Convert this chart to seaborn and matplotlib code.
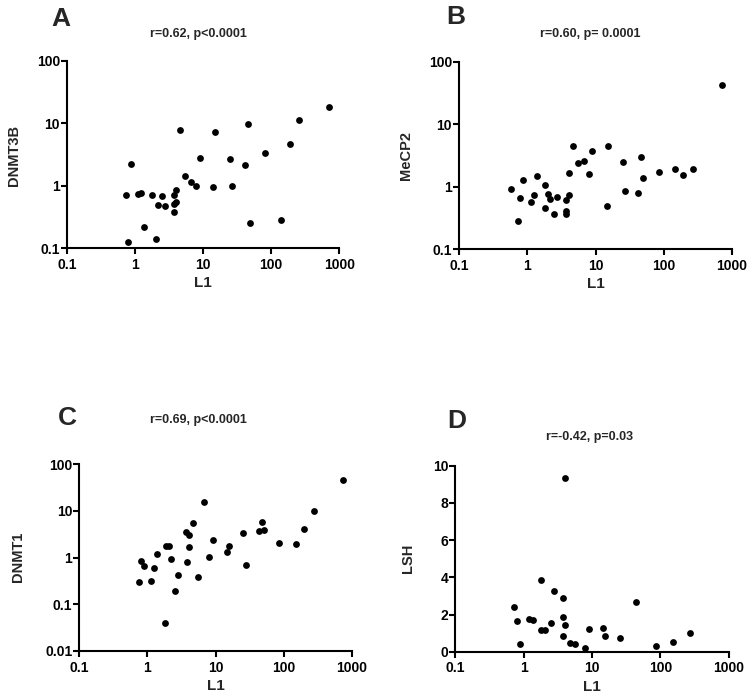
import numpy as np
import pandas as pd
import matplotlib
matplotlib.use("Agg")
import matplotlib.pyplot as plt
import seaborn as sns
from matplotlib.ticker import FixedLocator, FixedFormatter, NullLocator

sns.set_style("ticks")
plt.rcParams['font.family'] = ['Liberation Sans', 'DejaVu Sans']
plt.rcParams['font.weight'] = 'bold'

# Panel A: L1 vs DNMT3B
a_l1 = [0.73, 0.87, 0.79, 1.12, 1.22, 1.37, 1.79, 2.03, 2.19, 2.51, 2.74, 3.71, 4.01,
        3.71, 4.01, 3.71, 4.64, 5.49, 6.72, 7.78, 8.89, 14.1, 14.9, 24.7, 26.4, 41.7,
        45.6, 49.3, 81.7, 141, 187, 256, 703]
a_val = [0.72, 2.25, 0.128, 0.75, 0.77, 0.22, 0.71, 0.14, 0.50, 0.68, 0.47, 0.71, 0.86,
         0.52, 0.55, 0.38, 7.87, 1.41, 1.16, 1.0, 2.77, 0.94, 7.13, 2.70, 1.0, 2.14,
         9.7, 0.256, 3.29, 0.279, 4.70, 11.2, 18.4]

# Panel B: L1 vs MeCP2
b_l1 = [0.58, 0.73, 0.79, 0.88, 1.12, 1.24, 1.37, 1.79, 1.79, 2.03, 2.17, 2.49, 2.75,
        3.73, 3.73, 3.73, 4.08, 4.03, 4.67, 5.47, 6.69, 7.93, 8.97, 14.5, 15.2, 24.9,
        27.0, 42.4, 45.8, 50.1, 84.2, 146, 194, 265, 722]
b_val = [0.92, 0.28, 0.66, 1.28, 0.56, 0.73, 1.47, 1.05, 0.46, 0.76, 0.63, 0.36, 0.67,
         0.62, 0.40, 0.37, 0.74, 1.64, 4.47, 2.41, 2.59, 1.60, 3.76, 0.49, 4.53, 2.47,
         0.86, 0.79, 3.01, 1.36, 1.70, 1.88, 1.54, 1.90, 42.6]

# Panel C: L1 vs DNMT1
c_l1 = [0.74, 0.80, 0.89, 1.13, 1.25, 1.38, 1.80, 1.84, 2.05, 2.22, 2.52, 2.76, 3.73,
        3.82, 4.04, 4.08, 4.68, 5.60, 6.71, 8.04, 9.09, 14.8, 15.6, 25.4, 27.5, 43.1,
        47.2, 51.6, 84.8, 149, 197, 274, 746]
c_val = [0.30, 0.84, 0.66, 0.32, 0.59, 1.20, 0.040, 1.75, 1.75, 0.94, 0.19, 0.42, 3.47,
         0.82, 3.10, 1.66, 5.58, 0.39, 15.7, 1.02, 2.42, 1.28, 1.75, 3.36, 0.69, 3.65,
         5.77, 3.90, 2.02, 1.93, 4.03, 9.9, 44.8]

# Panel D: L1 vs LSH
d_l1 = [0.73, 0.80, 0.87, 1.21, 1.37, 1.80, 1.80, 2.07, 2.51, 2.78, 3.73, 3.77, 3.77,
        4.04, 4.08, 4.79, 5.55, 7.97, 9.03, 14.7, 15.4, 25.9, 43.7, 86.1, 152, 274]
d_val = [2.40, 1.67, 0.39, 1.76, 1.73, 3.88, 1.14, 1.14, 1.55, 3.24, 2.87, 1.87, 0.82,
         1.46, 9.36, 0.48, 0.39, 0.20, 1.23, 1.26, 0.84, 0.73, 2.65, 0.30, 0.53, 1.03]

x_ticks = [0.1, 1, 10, 100, 1000]
x_labels = ["0.1", "1", "10", "100", "1000"]

W, H = 754, 700
fig = plt.figure(figsize=(W / 100, H / 100), dpi=100)


def box(xl, xr, yt, yb):
    return [xl / W, (H - yb) / H, (xr - xl) / W, (yb - yt) / H]


def panel(rect, xs, ys, ylim, yticks, ylabels, logy=True):
    ax = fig.add_axes(rect)
    df = pd.DataFrame({"L1": xs, "val": ys})
    sns.scatterplot(data=df, x="L1", y="val", ax=ax, color="black", s=24,
                    linewidth=0, clip_on=False)
    ax.set_xscale("log")
    if logy:
        ax.set_yscale("log")
    ax.set_xlim(0.1, 1000)
    ax.set_ylim(*ylim)
    ax.xaxis.set_major_locator(FixedLocator(x_ticks))
    ax.xaxis.set_major_formatter(FixedFormatter(x_labels))
    ax.xaxis.set_minor_locator(NullLocator())
    ax.yaxis.set_major_locator(FixedLocator(yticks))
    ax.yaxis.set_major_formatter(FixedFormatter(ylabels))
    ax.yaxis.set_minor_locator(NullLocator())
    for side in ["top", "right"]:
        ax.spines[side].set_visible(False)
    for side in ["left", "bottom"]:
        ax.spines[side].set_linewidth(1.5)
        ax.spines[side].set_color("black")
    ax.tick_params(axis="both", length=4, width=1.5, colors="black",
                   labelsize=10)
    ax.tick_params(axis="x", pad=3)
    ax.tick_params(axis="y", pad=1)
    for lab in ax.get_xticklabels() + ax.get_yticklabels():
        lab.set_fontweight("bold")
    ax.set_xlabel("")
    ax.set_ylabel("")
    return ax


log3 = [0.1, 1, 10, 100]
log3_lab = ["0.1", "1", "10", "100"]

panel(box(67, 339.3, 60.7, 248.3), a_l1, a_val, (0.1, 100), log3, log3_lab)
panel(box(459, 732, 61.7, 249), b_l1, b_val, (0.1, 100), log3, log3_lab)
panel(box(79.3, 352, 464, 651), c_l1, c_val, (0.01, 100),
      [0.01, 0.1, 1, 10, 100], ["0.01", "0.1", "1", "10", "100"])
panel(box(455.3, 728.7, 465.7, 651.7), d_l1, d_val, (0, 10),
      [0, 2, 4, 6, 8, 10], ["0", "2", "4", "6", "8", "10"], logy=False)


def ftext(x, y, s, **kw):
    fig.text(x / W, 1 - y / H, s, ha="center", va="center", fontweight="bold", **kw)


# panel letters
ftext(61, 19, "A", fontsize=19)
ftext(456, 17, "B", fontsize=19)
ftext(67, 418, "C", fontsize=19)
ftext(457, 421, "D", fontsize=19)

# correlation titles
ftext(198, 34, "r=0.62, p<0.0001", fontsize=9)
ftext(590, 34, "r=0.60, p= 0.0001", fontsize=9)
ftext(198, 420, "r=0.69, p<0.0001", fontsize=9)
ftext(590, 437, "r=-0.42, p=0.03", fontsize=9)

# axis labels
ftext(203, 283, "L1", fontsize=11)
ftext(596, 284, "L1", fontsize=11)
ftext(216, 686, "L1", fontsize=11)
ftext(592, 687, "L1", fontsize=11)
ftext(14, 155, "DNMT3B", fontsize=10.5, rotation=90)
ftext(406, 155, "MeCP2", fontsize=10.5, rotation=90)
ftext(18, 557, "DNMT1", fontsize=10.5, rotation=90)
ftext(408, 558, "LSH", fontsize=10.5, rotation=90)

fig.savefig("out.png", dpi=100, facecolor="white")
